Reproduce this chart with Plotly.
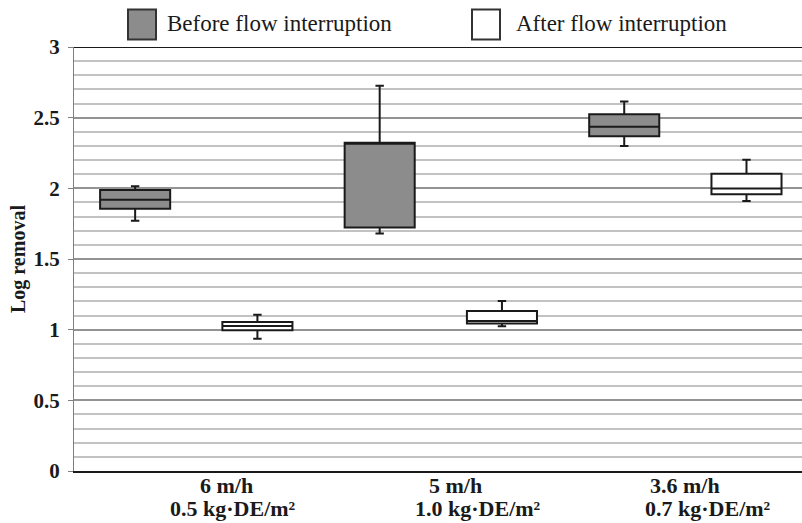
import plotly.graph_objects as go

# ---- data ----
categories = ["g1", "g2", "g3"]
speed_labels = ["6 m/h", "5 m/h", "3.6 m/h"]
dose_labels = ["0.5 kg·DE/m²", "1.0 kg·DE/m²", "0.7 kg·DE/m²"]

before_lower = [1.77, 1.68, 2.30]
before_q1 = [1.856, 1.722, 2.369]
before_median = [1.92, 2.32, 2.435]
before_q3 = [1.989, 2.322, 2.524]
before_upper = [2.015, 2.725, 2.614]

after_lower = [0.936, 1.024, 1.911]
after_q1 = [0.996, 1.043, 1.958]
after_median = [1.026, 1.062, 1.998]
after_q3 = [1.054, 1.132, 2.104]
after_upper = [1.106, 1.203, 2.203]

series_names = ["Before flow interruption", "After flow interruption"]
y_ticks = [0, 0.5, 1, 1.5, 2, 2.5, 3]
y_ticktext = ["0", "0.5", "1", "1.5", "2", "2.5", "3"]

# ---- layout geometry (pixels) ----
W, H = 802, 523
L, R, T, B = 74, 0, 47, 52
PW, PH = W - L - R, H - T - B


def xp(px):
    return (px - L) / PW


def yp(py):
    return (H - B - py) / PH


SERIF = "Liberation Serif, Times New Roman, serif"
INK = "#1a1a1a"
GRAY = "#8c8c8c"

fig = go.Figure()
fig.add_trace(go.Box(
    x=categories, q1=before_q1, median=before_median, q3=before_q3,
    lowerfence=before_lower, upperfence=before_upper,
    name=series_names[0], fillcolor=GRAY, line=dict(color=INK, width=2),
    whiskerwidth=0.12, boxpoints=False, showlegend=False, hoverinfo="skip"))
fig.add_trace(go.Box(
    x=categories, q1=after_q1, median=after_median, q3=after_q3,
    lowerfence=after_lower, upperfence=after_upper,
    name=series_names[1], fillcolor="white", line=dict(color=INK, width=2),
    whiskerwidth=0.12, boxpoints=False, showlegend=False, hoverinfo="skip"))

annotations = []
shapes = []

# x category labels (two lines each)
shift1 = [30, 15, 0]
shift2 = [37, 37, 23]
for i, c in enumerate(categories):
    annotations.append(dict(x=c, xref="x", y=yp(485), yref="paper", text="<b>%s</b>" % speed_labels[i],
                            showarrow=False, xshift=shift1[i], yanchor="middle", xanchor="center",
                            font=dict(family=SERIF, size=22, color=INK)))
    annotations.append(dict(x=c, xref="x", y=yp(509), yref="paper", text="<b>%s</b>" % dose_labels[i],
                            showarrow=False, xshift=shift2[i], yanchor="middle", xanchor="center",
                            font=dict(family=SERIF, size=22, color=INK)))

# y-axis title
annotations.append(dict(x=xp(18), xref="paper", y=0.5, yref="paper", text="<b>Log removal</b>",
                        textangle=-90, showarrow=False, xanchor="center", yanchor="middle",
                        font=dict(family=SERIF, size=20, color=INK)))

# legend (manual)
legend_boxes = [(128, 156, GRAY), (472, 500, "white")]
legend_text_x = [165, 514]
for (x0, x1, col), tx, name in zip(legend_boxes, legend_text_x, series_names):
    shapes.append(dict(type="rect", xref="paper", yref="paper", x0=xp(x0), x1=xp(x1),
                       y0=yp(39.5), y1=yp(9.5), fillcolor=col, line=dict(color="#333333", width=2)))
    annotations.append(dict(x=xp(tx), xref="paper", y=yp(24), yref="paper", text=name,
                            showarrow=False, xanchor="left", yanchor="middle",
                            font=dict(family=SERIF, size=23, color=INK)))

# top border line at y = 3
shapes.append(dict(type="line", xref="paper", yref="y", x0=0, x1=1, y0=3, y1=3,
                   line=dict(color=INK, width=2), layer="above"))

fig.update_layout(
    width=W, height=H,
    margin=dict(l=L, r=R, t=T, b=B, pad=0),
    paper_bgcolor="white", plot_bgcolor="white",
    boxmode="group", boxgap=0, boxgroupgap=0.427,
    annotations=annotations, shapes=shapes,
    showlegend=False,
    xaxis=dict(type="category", range=[-0.5, 2.477], showgrid=False, zeroline=False,
               showline=True, linecolor=INK, linewidth=2, ticks="", showticklabels=False,
               fixedrange=True),
    yaxis=dict(range=[0, 3], tickvals=y_ticks, ticktext=y_ticktext, showgrid=True,
               gridcolor="#939393", gridwidth=1.5, zeroline=False,
               showline=True, linecolor="#808080", linewidth=1,
               ticks="outside", ticklen=5, tickcolor="#808080", tickwidth=1,
               ticklabelstandoff=4,
               tickfont=dict(family=SERIF, size=21, color=INK, weight="bold"),
               minor=dict(dtick=0.1, tick0=0, showgrid=True, gridcolor="#c2c2c2", gridwidth=1.5, ticks=""),
               fixedrange=True),
)

fig.write_html("out.html", config={"displayModeBar": False},
               post_script="document.body.style.margin='0';document.body.style.overflow='hidden';")
